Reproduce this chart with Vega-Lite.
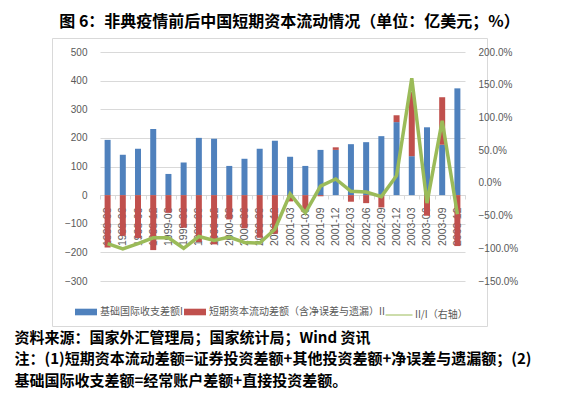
{
  "$schema": "https://vega.github.io/schema/vega-lite/v6.json",
  "autosize": "none",
  "width": 435,
  "height": 288,
  "padding": {"left": 52, "top": 38, "right": 84, "bottom": 86},
  "background": "white",
  "title": {
    "text": "图 6：非典疫情前后中国短期资本流动情况（单位：亿美元；%）",
    "font": "Noto Sans CJK SC",
    "fontSize": 16,
    "fontWeight": "bold",
    "color": "#000000",
    "frame": "group",
    "anchor": "middle",
    "dx": 20,
    "offset": 8
  },
  "datasets": {
    "bars": [
      {"q": "1998-03", "s": "基础国际收支差额I", "v": 193}, {"q": "1998-03", "s": "短期资本流动差额（含净误差与遗漏）II", "v": -183},
      {"q": "1998-06", "s": "基础国际收支差额I", "v": 141}, {"q": "1998-06", "s": "短期资本流动差额（含净误差与遗漏）II", "v": -142},
      {"q": "1998-09", "s": "基础国际收支差额I", "v": 162}, {"q": "1998-09", "s": "短期资本流动差额（含净误差与遗漏）II", "v": -150},
      {"q": "1998-12", "s": "基础国际收支差额I", "v": 231}, {"q": "1998-12", "s": "短期资本流动差额（含净误差与遗漏）II", "v": -192},
      {"q": "1999-03", "s": "基础国际收支差额I", "v": 74}, {"q": "1999-03", "s": "短期资本流动差额（含净误差与遗漏）II", "v": -62},
      {"q": "1999-06", "s": "基础国际收支差额I", "v": 114}, {"q": "1999-06", "s": "短期资本流动差额（含净误差与遗漏）II", "v": -114},
      {"q": "1999-09", "s": "基础国际收支差额I", "v": 200}, {"q": "1999-09", "s": "短期资本流动差额（含净误差与遗漏）II", "v": -164},
      {"q": "1999-12", "s": "基础国际收支差额I", "v": 197}, {"q": "1999-12", "s": "短期资本流动差额（含净误差与遗漏）II", "v": -172},
      {"q": "2000-03", "s": "基础国际收支差额I", "v": 102}, {"q": "2000-03", "s": "短期资本流动差额（含净误差与遗漏）II", "v": -85},
      {"q": "2000-06", "s": "基础国际收支差额I", "v": 127}, {"q": "2000-06", "s": "短期资本流动差额（含净误差与遗漏）II", "v": -116},
      {"q": "2000-09", "s": "基础国际收支差额I", "v": 162}, {"q": "2000-09", "s": "短期资本流动差额（含净误差与遗漏）II", "v": -149},
      {"q": "2000-12", "s": "基础国际收支差额I", "v": 190}, {"q": "2000-12", "s": "短期资本流动差额（含净误差与遗漏）II", "v": -135},
      {"q": "2001-03", "s": "基础国际收支差额I", "v": 134}, {"q": "2001-03", "s": "短期资本流动差额（含净误差与遗漏）II", "v": -22},
      {"q": "2001-06", "s": "基础国际收支差额I", "v": 102}, {"q": "2001-06", "s": "短期资本流动差额（含净误差与遗漏）II", "v": -55},
      {"q": "2001-09", "s": "基础国际收支差额I", "v": 158}, {"q": "2001-09", "s": "短期资本流动差额（含净误差与遗漏）II", "v": -4},
      {"q": "2001-12", "s": "基础国际收支差额I", "v": 158}, {"q": "2001-12", "s": "短期资本流动差额（含净误差与遗漏）II", "v": 9},
      {"q": "2002-03", "s": "基础国际收支差额I", "v": 178}, {"q": "2002-03", "s": "短期资本流动差额（含净误差与遗漏）II", "v": -23},
      {"q": "2002-06", "s": "基础国际收支差额I", "v": 185}, {"q": "2002-06", "s": "短期资本流动差额（含净误差与遗漏）II", "v": -28},
      {"q": "2002-09", "s": "基础国际收支差额I", "v": 206}, {"q": "2002-09", "s": "短期资本流动差额（含净误差与遗漏）II", "v": -43},
      {"q": "2002-12", "s": "基础国际收支差额I", "v": 255}, {"q": "2002-12", "s": "短期资本流动差额（含净误差与遗漏）II", "v": 24},
      {"q": "2003-03", "s": "基础国际收支差额I", "v": 136}, {"q": "2003-03", "s": "短期资本流动差额（含净误差与遗漏）II", "v": 224},
      {"q": "2003-06", "s": "基础国际收支差额I", "v": 237}, {"q": "2003-06", "s": "短期资本流动差额（含净误差与遗漏）II", "v": -72},
      {"q": "2003-09", "s": "基础国际收支差额I", "v": 176}, {"q": "2003-09", "s": "短期资本流动差额（含净误差与遗漏）II", "v": 166},
      {"q": "2003-12", "s": "基础国际收支差额I", "v": 373}, {"q": "2003-12", "s": "短期资本流动差额（含净误差与遗漏）II", "v": -178}
    ],
    "ratio": [
      {"q": "1998-03", "r": -0.93}, {"q": "1998-06", "r": -1.01}, {"q": "1998-09", "r": -0.93}, {"q": "1998-12", "r": -0.84},
      {"q": "1999-03", "r": -0.84}, {"q": "1999-06", "r": -1.0}, {"q": "1999-09", "r": -0.82}, {"q": "1999-12", "r": -0.88},
      {"q": "2000-03", "r": -0.83}, {"q": "2000-06", "r": -0.91}, {"q": "2000-09", "r": -0.92}, {"q": "2000-12", "r": -0.71},
      {"q": "2001-03", "r": -0.17}, {"q": "2001-06", "r": -0.46}, {"q": "2001-09", "r": -0.05}, {"q": "2001-12", "r": 0.06},
      {"q": "2002-03", "r": -0.13}, {"q": "2002-06", "r": -0.14}, {"q": "2002-09", "r": -0.21}, {"q": "2002-12", "r": 0.11},
      {"q": "2003-03", "r": 1.6}, {"q": "2003-06", "r": -0.31}, {"q": "2003-09", "r": 0.95}, {"q": "2003-12", "r": -0.48}
    ]
  },
  "encoding": {
    "x": {
      "field": "q",
      "type": "ordinal",
      "sort": null,
      "scale": {"range": [48, 413], "paddingInner": 0, "paddingOuter": 0},
      "axis": {
        "offset": -131,
        "labelAngle": -90,
        "labelFont": "Liberation Sans",
        "labelFontSize": 10.5,
        "labelColor": "#595959",
        "labelPadding": 8,
        "domainColor": "#d9d9d9",
        "tickColor": "#d9d9d9",
        "tickSize": 4,
        "tickBand": "extent",
        "grid": false,
        "title": [
          "资料来源：国家外汇管理局；国家统计局；Wind 资讯",
          "注：(1)短期资本流动差额=证券投资差额+其他投资差额+净误差与遗漏额；(2)",
          "基础国际收支差额=经常账户差额+直接投资差额。"
        ],
        "titleFont": "Noto Sans CJK SC",
        "titleFontSize": 15,
        "titleFontWeight": "bold",
        "titleColor": "#000000",
        "titleAlign": "left",
        "titleBaseline": "top",
        "titleLineHeight": 21.5,
        "titleX": -38,
        "titleY": 135
      }
    }
  },
  "layer": [
    {
      "data": {"name": "bars"},
      "mark": {"type": "bar", "size": 6},
      "encoding": {
        "y": {
          "field": "v",
          "type": "quantitative",
          "stack": "zero",
          "scale": {"domain": [-300, 500], "range": [243, 14], "nice": false, "zero": false},
          "axis": {
            "values": [-300, -200, -100, 0, 100, 200, 300, 400, 500],
            "offset": -48,
            "title": null,
            "domain": false,
            "ticks": false,
            "tickSize": 0,
            "labelPadding": 13,
            "labelFont": "Liberation Sans",
            "labelFontSize": 10,
            "labelColor": "#595959",
            "gridColor": "#d9d9d9",
            "gridWidth": 1
          }
        },
        "color": {
          "field": "s",
          "type": "nominal",
          "sort": ["基础国际收支差额I", "短期资本流动差额（含净误差与遗漏）II"],
          "scale": {"range": ["#4f81bd", "#c0504d"]},
          "legend": {
            "orient": "none",
            "legendX": 23,
            "legendY": 263,
            "direction": "horizontal",
            "title": null,
            "padding": 0,
            "symbolType": "M-1,-0.3H1V0.3H-1Z",
            "symbolSize": 484,
            "symbolStrokeWidth": 0,
            "labelFont": "Noto Sans CJK SC",
            "labelFontSize": 10,
            "labelColor": "#595959",
            "labelLimit": 300,
            "labelOffset": 3,
            "columnPadding": 1
          }
        },
        "order": {"field": "s", "sort": "ascending"}
      }
    },
    {
      "data": {"name": "ratio"},
      "mark": {"type": "line", "strokeWidth": 3.5, "strokeJoin": "miter"},
      "encoding": {
        "y": {
          "field": "r",
          "type": "quantitative",
          "scale": {"domain": [-1.5, 2.0], "range": [243, 14], "nice": false, "zero": false},
          "axis": {
            "orient": "right",
            "values": [-1.5, -1.0, -0.5, 0, 0.5, 1.0, 1.5, 2.0],
            "format": ".1%",
            "offset": -22,
            "title": null,
            "grid": false,
            "domain": false,
            "ticks": false,
            "tickSize": 0,
            "labelPadding": 13,
            "labelFont": "Liberation Sans",
            "labelFontSize": 10,
            "labelColor": "#595959"
          }
        },
        "stroke": {
          "datum": "II/I（右轴）",
          "type": "nominal",
          "scale": {"range": ["#9bbb59"]},
          "legend": {
            "orient": "none",
            "legendX": 333,
            "legendY": 263,
            "title": null,
            "padding": 0,
            "symbolType": "stroke",
            "symbolSize": 729,
            "symbolStrokeWidth": 1,
            "labelFont": "Noto Sans CJK SC",
            "labelFontSize": 10,
            "labelColor": "#595959",
            "labelOffset": 2
          }
        }
      }
    }
  ],
  "resolve": {"scale": {"y": "independent"}},
  "config": {
    "view": {"stroke": "#d9d9d9", "strokeWidth": 1},
    "axis": {"gridColor": "#d9d9d9"}
  }
}
